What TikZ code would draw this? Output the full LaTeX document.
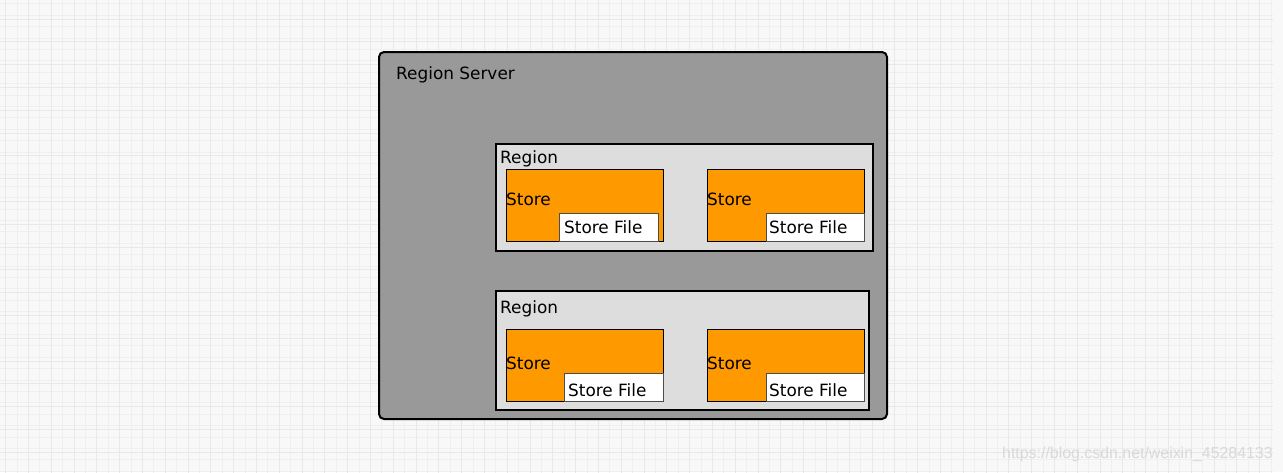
\documentclass[tikz,border=0pt]{standalone}
\usepackage{fontspec}
\setmainfont{DejaVu Sans}
\newfontfamily\wmfont{Liberation Sans}
\definecolor{bgc}{HTML}{F8F8F8}
\definecolor{gmaj}{HTML}{E8E8E8}
\definecolor{gmin}{HTML}{EFEFEF}
\definecolor{srvc}{HTML}{999999}
\definecolor{regc}{HTML}{DDDDDD}
\definecolor{stc}{HTML}{FF9900}
\definecolor{wmc}{HTML}{D9D9D9}
\begin{document}
\begin{tikzpicture}[x=1pt,y=-1pt,
  srvbox/.style={draw=black,fill=srvc,line width=2pt,rounded corners=5pt,anchor=north west,inner sep=0pt},
  regbox/.style={draw=black,fill=regc,line width=2pt,anchor=north west,inner sep=0pt},
  stbox/.style={draw=black,fill=stc,line width=1.3pt,anchor=north west,inner sep=0pt},
  sfbox/.style={draw=black!70,fill=white,line width=1pt,anchor=north west,inner sep=0pt},
  lbl/.style={font=\fontsize{16.9}{18}\selectfont,anchor=base west,inner sep=0pt,text=black},
  wm/.style={font=\wmfont\fontsize{15.9}{17}\selectfont,anchor=base west,inner sep=0pt,text=wmc}]
\useasboundingbox (0,0) rectangle (1283,472);
\fill[bgc] (0,0) rectangle (1283,472);
\begin{scope}
\clip (0,0) rectangle (1273,472);
\draw[gmin,line width=1pt,shift={(-5.7,-7.6)}] (0,0) grid[step=11.4pt] (1300,490);
\draw[gmaj,line width=1pt,shift={(5.7,19)}] (-22.8,-22.8) grid[step=22.8pt] (1290,470);
\end{scope}
% region server
\node[srvbox,minimum width=508pt,minimum height=367pt] (rs) at (378,51) {};
\node[lbl] (rst) at (396,79.3) {Region Server};
% region 1
\node[regbox,minimum width=377pt,minimum height=107pt] (r1) at (495,143) {};
\node[lbl] (r1t) at (500,163.3) {Region};
\node[stbox,minimum width=157pt,minimum height=72pt] (s1) at (506,169) {};
\node[lbl] (s1t) at (506,205.7) {Store};
\node[sfbox,minimum width=99pt,minimum height=28pt] (f1) at (559,213.3) {};
\node[lbl] (f1t) at (564,233.3) {Store File};
\node[stbox,minimum width=157pt,minimum height=72pt] (s2) at (707,169) {};
\node[lbl] (s2t) at (707,205.7) {Store};
\node[sfbox,minimum width=98pt,minimum height=28pt] (f2) at (766,213.3) {};
\node[lbl] (f2t) at (769,233.3) {Store File};
% region 2
\node[regbox,minimum width=373pt,minimum height=119pt] (r2) at (495,290.3) {};
\node[lbl] (r2t) at (500,313.3) {Region};
\node[stbox,minimum width=157pt,minimum height=72pt] (s3) at (506,329) {};
\node[lbl] (s3t) at (506,369.3) {Store};
\node[sfbox,minimum width=99pt,minimum height=28pt] (f3) at (564.3,372.7) {};
\node[lbl] (f3t) at (568,396) {Store File};
\node[stbox,minimum width=157pt,minimum height=72pt] (s4) at (707,329) {};
\node[lbl] (s4t) at (707,369.3) {Store};
\node[sfbox,minimum width=98pt,minimum height=28pt] (f4) at (766,372.7) {};
\node[lbl] (f4t) at (769,396) {Store File};
% watermark
\node[wm] (wmk) at (1002,458) {https://blog.csdn.net/weixin\_45284133};
\end{tikzpicture}
\end{document}
